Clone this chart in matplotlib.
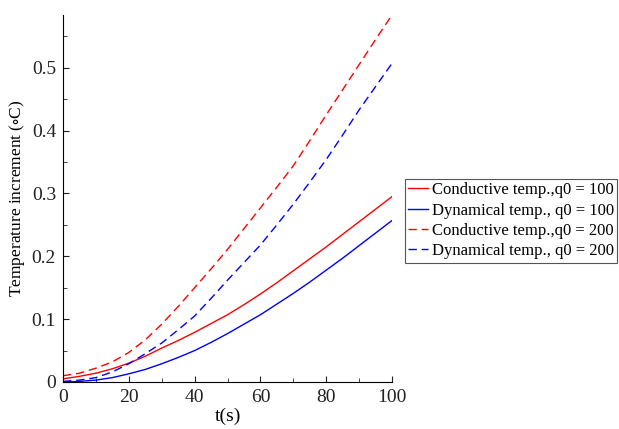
import matplotlib
matplotlib.use("Agg")
import matplotlib.pyplot as plt
from matplotlib.ticker import MultipleLocator

plt.rcParams['font.family'] = ['Liberation Serif', 'DejaVu Serif']
plt.rcParams['mathtext.fontset'] = 'stix'

# values (every 5 s)
t = [0, 5, 10, 15, 20, 25, 30, 35, 40, 45, 50, 55, 60, 65, 70, 75, 80, 85, 90, 95, 100]
cond_100 = [0.005, 0.009, 0.014, 0.021, 0.030, 0.041, 0.054, 0.066, 0.079, 0.093, 0.107,
            0.123, 0.140, 0.158, 0.177, 0.196, 0.215, 0.235, 0.255, 0.275, 0.295]
dyn_100 = [0.000, 0.001, 0.003, 0.007, 0.013, 0.020, 0.029, 0.039, 0.050, 0.063, 0.077,
           0.092, 0.107, 0.124, 0.141, 0.159, 0.178, 0.197, 0.217, 0.237, 0.257]
cond_200 = [0.010, 0.014, 0.022, 0.032, 0.047, 0.067, 0.092, 0.120, 0.150, 0.180, 0.211,
            0.244, 0.277, 0.310, 0.344, 0.384, 0.425, 0.465, 0.505, 0.545, 0.584]
dyn_200 = [0.001, 0.003, 0.007, 0.016, 0.029, 0.045, 0.062, 0.083, 0.105, 0.133, 0.162,
           0.190, 0.218, 0.250, 0.283, 0.318, 0.354, 0.393, 0.433, 0.470, 0.507]
labels = ["Conductive temp.,q0 = 100", "Dynamical temp., q0 = 100",
          "Conductive temp.,q0 = 200", "Dynamical temp., q0 = 200"]

fig = plt.figure(figsize=(6.19, 4.29), dpi=100)
ax = fig.add_axes([63/619, 1-382/429, (392-63)/619, (382-15)/429])

dash = (0, (6, 3.5))
ax.plot(t, cond_100, color='red', lw=1.0, label=labels[0])
ax.plot(t, dyn_100, color='blue', lw=1.0, label=labels[1])
ax.plot(t, cond_200, color='red', lw=1.0, ls=dash, label=labels[2])
ax.plot(t, dyn_200, color='blue', lw=1.0, ls=dash, label=labels[3])

ax.set_xlim(0, 100)
ax.set_ylim(0, 0.584)
ax.xaxis.set_major_locator(MultipleLocator(20))
ax.xaxis.set_minor_locator(MultipleLocator(10))
ax.yaxis.set_minor_locator(MultipleLocator(0.05))
ax.set_yticks([0, 0.1, 0.2, 0.3, 0.4, 0.5])
ax.set_yticklabels(['0', '0.1', '0.2', '0.3', '0.4', '0.5'])
ax.tick_params(which='both', direction='in', labelsize=14, colors='#222222', pad=5)
ax.tick_params(which='major', length=4)
ax.tick_params(which='minor', length=3)
for s in ['top', 'right']:
    ax.spines[s].set_visible(False)

ax.set_xlabel('t(s)', fontsize=14, labelpad=1)
ax.set_ylabel(r'Temperature increment ($\circ$C)', fontsize=12.5)
ax.yaxis.set_label_coords(-0.109, 0.5)

leg = fig.legend(loc='upper left', bbox_to_anchor=(405/619, 1-179/429),
                 fontsize=12, handlelength=1.2, handletextpad=0.2,
                 labelspacing=0.26, borderpad=0.2, borderaxespad=0,
                 fancybox=False, framealpha=1)
leg.get_frame().set_edgecolor('#555555')
leg.get_frame().set_linewidth(0.8)

fig.savefig('out.png', dpi=100)
